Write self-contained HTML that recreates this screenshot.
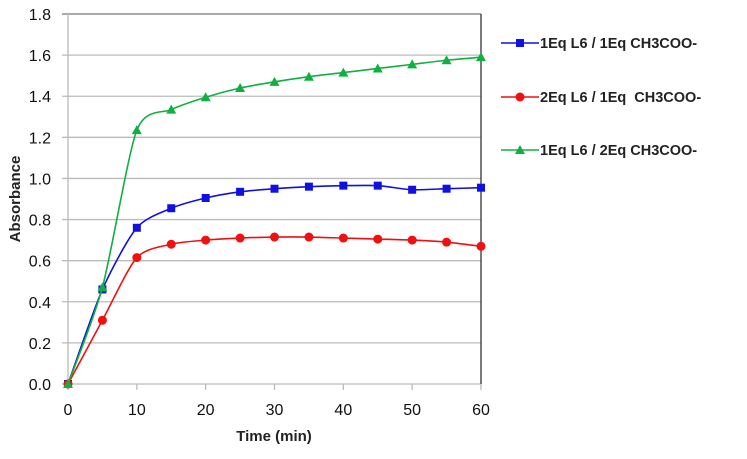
<!DOCTYPE html>
<html><head><meta charset="utf-8"><style>
body{margin:0;background:#fff;width:747px;height:454px;overflow:hidden;font-family:"Liberation Sans",Arial,sans-serif}
</style></head><body>
<svg id="chart" width="747" height="454" xmlns="http://www.w3.org/2000/svg">
<g id="grid"></g>
<g id="axes"></g>
<g id="series"></g>
<text transform="translate(20,199) rotate(-90)" text-anchor="middle" font-size="15" font-weight="bold" fill="#222">Absorbance</text>
<text x="274" y="441" text-anchor="middle" font-size="15" font-weight="bold" fill="#222">Time (min)</text>
<g id="legend"></g>
</svg>
<script>
const times=[0,5,10,15,20,25,30,35,40,45,50,55,60];
const blueVals=[0,0.46,0.76,0.855,0.905,0.935,0.95,0.96,0.965,0.965,0.945,0.95,0.955];
const redVals=[0,0.31,0.615,0.68,0.70,0.71,0.715,0.715,0.71,0.705,0.70,0.69,0.67];
const greenVals=[0,0.47,1.235,1.335,1.395,1.44,1.47,1.495,1.515,1.535,1.555,1.575,1.59];
const yTicks=["0.0","0.2","0.4","0.6","0.8","1.0","1.2","1.4","1.6","1.8"];
const xTicks=[0,10,20,30,40,50,60];
const seriesNames=["1Eq L6 / 1Eq CH3COO-","2Eq L6 / 1Eq  CH3COO-","1Eq L6 / 2Eq CH3COO-"];
const NS="http://www.w3.org/2000/svg";
const X0=68,X1=481,Y0=384,Y1=14;
const sx=v=>X0+(v/60)*(X1-X0);
const sy=v=>Y0-(v/1.8)*(Y0-Y1);
function mk(tag,attrs,parent){const e=document.createElementNS(NS,tag);for(const k in attrs)e.setAttribute(k,attrs[k]);parent.appendChild(e);return e;}
const grid=document.getElementById('grid'),axes=document.getElementById('axes'),ser=document.getElementById('series'),leg=document.getElementById('legend');
yTicks.forEach(t=>{const y=sy(parseFloat(t));
 const l=mk('line',{x1:X0-6,x2:X1,y1:y,y2:y,stroke:parseFloat(t)==1.8?'#777':'#bbb','stroke-width':1.3},grid);
 
 
 const tx=mk('text',{x:51,y:y+6,'text-anchor':'end','font-size':16,fill:'#111'},axes);tx.textContent=t;
 
 
});
const la=mk('line',{x1:X0,x2:X0,y1:Y1,y2:Y0,stroke:'#bbb','stroke-width':1.3},axes);


const ra=mk('line',{x1:X1,x2:X1,y1:Y1,y2:Y0,stroke:'#333','stroke-width':1.3},axes);


xTicks.forEach(t=>{const x=sx(t);
 const l=mk('line',{x1:x,x2:x,y1:Y0,y2:Y0+6,stroke:'#bbb','stroke-width':1.3},axes);
 
 
 const tx=mk('text',{x:x,y:Y0+31,'text-anchor':'middle','font-size':16,fill:'#111'},axes);tx.textContent=t;
 
 
});
function smooth(pts){let d=`M${pts[0][0]},${pts[0][1]}`;for(let i=0;i<pts.length-1;i++){const p0=pts[i-1]||pts[i],p1=pts[i],p2=pts[i+1],p3=pts[i+2]||p2;const t=1/8;
 d+=` C${p1[0]+(p2[0]-p0[0])*t},${p1[1]+(p2[1]-p0[1])*t} ${p2[0]-(p3[0]-p1[0])*t},${p2[1]-(p3[1]-p1[1])*t} ${p2[0]},${p2[1]}`;}return d;}
function marker(kind,x,y,c,parent){
 if(kind==='sq')return mk('rect',{x:x-4,y:y-4,width:8,height:8,fill:c},parent);
 if(kind==='ci')return mk('circle',{cx:x,cy:y,r:4.5,fill:c},parent);
 return mk('polygon',{points:`${x},${y-5} ${x+5},${y+4} ${x-5},${y+4}`,fill:c},parent);}
const defs=[[blueVals,'#1010e0','sq','series-blue'],[redVals,'#f01010','ci','series-red'],[greenVals,'#10b040','tr','series-green']];
defs.forEach(([vals,c,kind,name])=>{
 const g=mk('g',{},ser);
 
 
 const pts=times.map((t,i)=>[sx(t),sy(vals[i])]);
 mk('path',{d:smooth(pts),fill:'none',stroke:c,'stroke-width':1.6},g);
 pts.forEach(p=>{const m=marker(kind,p[0],p[1],c,g);
  
  });
});
[43,97,150].forEach((y,i)=>{const [v,c,kind,name]=defs[i];
 const g=mk('g',{},leg);
 
 
 mk('line',{x1:501,x2:539,y1:y,y2:y,stroke:c,'stroke-width':1.6},g);
 marker(kind,520,y,c,g);
 const tx=mk('text',{x:540,y:y+5,'font-size':14.5,'font-weight':'bold',fill:'#222'},g);tx.textContent=seriesNames[i];
 tx.setAttribute('xml:space','preserve');tx.style.whiteSpace='pre';
});
</script>
</body></html>
